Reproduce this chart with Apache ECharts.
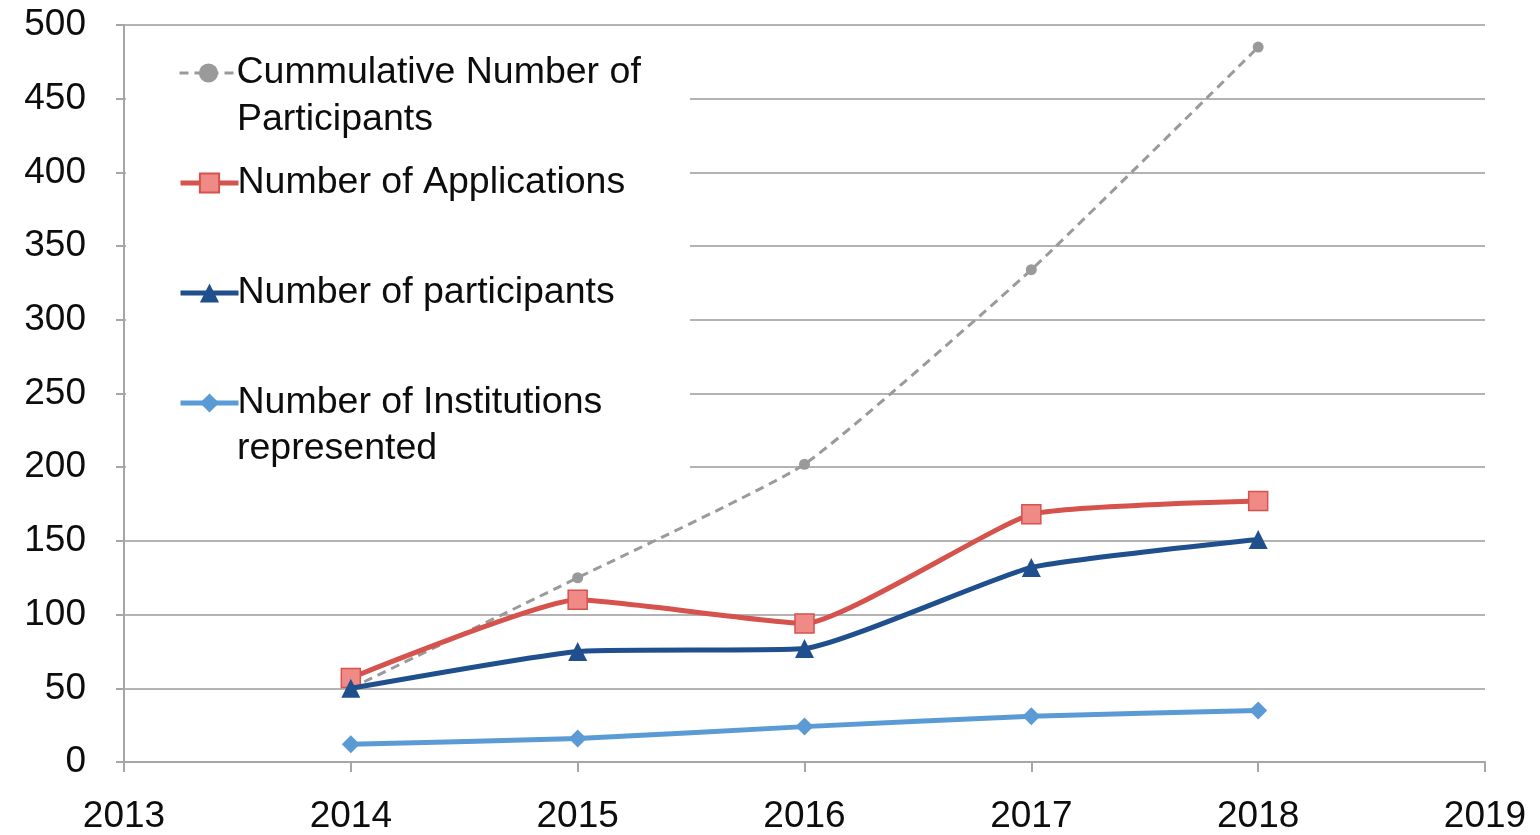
<!DOCTYPE html>
<html>
<head>
<meta charset="utf-8">
<script src="https://cdn.jsdelivr.net/npm/echarts@6/dist/echarts.min.js"></script>
<style>
html,body{margin:0;padding:0;background:#fff;}
#chart{width:1540px;height:835px;}
</style>
</head>
<body>
<div id="chart"></div>
<script>
const years = [2014, 2015, 2016, 2017, 2018];
const cumulative = [50, 125, 202, 334, 485];
const applications = [57, 110, 94, 168, 177];
const participants = [50, 75, 77, 132, 151];
const institutions = [12, 16, 24, 31, 35];
const seriesNames = ['Cummulative Number of', 'Number of Applications', 'Number of participants', 'Number of Institutions'];
const secondLines = ['Participants', 'represented'];

const FONT = '"Liberation Sans", Arial, sans-serif';
const pts = arr => years.map((y, i) => [y, arr[i]]);

const chart = echarts.init(document.getElementById('chart'), null, {renderer: 'canvas'});

function legendAt(name, top, lw) {
  return {
    show: true, data: [name], orient: 'vertical', left: 178, top: top,
    padding: 0, itemWidth: 58, itemHeight: 24, itemGap: 0,
    lineStyle: {width: lw},
    textStyle: {fontFamily: FONT, fontSize: 37.5, color: '#0d0d0d', lineHeight: 40, padding: [0,0,0,-6]},
    z: 6
  };
}

const option = {
  animation: false,
  backgroundColor: '#ffffff',
  grid: {left: 124, right: 55, top: 25, bottom: 73, containLabel: false},
  legend: [
    legendAt(seriesNames[0], 53, 3),
    legendAt(seriesNames[1], 163, 5),
    legendAt(seriesNames[2], 273, 5),
    legendAt(seriesNames[3], 383, 5)
  ],
  graphic: [
    {type: 'rect', left: 126, top: 30, shape: {width: 564, height: 450}, style: {fill: '#ffffff'}, z: 1, silent: true},
    {type: 'text', left: 237, top: 101, style: {text: secondLines[0], font: '37.5px ' + FONT, fill: '#0d0d0d'}, z: 6},
    {type: 'text', left: 237, top: 430, style: {text: secondLines[1], font: '37.5px ' + FONT, fill: '#0d0d0d'}, z: 6}
  ],
  xAxis: {
    type: 'value', min: 2013, max: 2019, interval: 1,
    axisLine: {show: true, lineStyle: {color: '#a6a6a6', width: 2}},
    axisTick: {show: true, length: 10, lineStyle: {color: '#a6a6a6', width: 2}},
    splitLine: {show: false},
    axisLabel: {fontFamily: FONT, fontSize: 37, color: '#0d0d0d', margin: 36, formatter: v => String(v)}
  },
  yAxis: {
    type: 'value', min: 0, max: 500, interval: 50,
    axisLine: {show: true, lineStyle: {color: '#a6a6a6', width: 2}},
    axisTick: {show: true, length: 8, lineStyle: {color: '#a6a6a6', width: 2}},
    splitLine: {show: true, lineStyle: {color: '#b3b3b3', width: 2}},
    axisLabel: {fontFamily: FONT, fontSize: 37, color: '#0d0d0d', margin: 38}
  },
  series: [
    {
      name: seriesNames[0], type: 'line', data: pts(cumulative), smooth: 0.15,
      symbol: 'circle', symbolSize: 11,
      lineStyle: {color: '#9a9a9a', width: 3, type: [9, 6]},
      itemStyle: {color: '#9a9a9a'}, z: 2
    },
    {
      name: seriesNames[1], type: 'line', data: pts(applications), smooth: 0.15,
      symbol: 'rect', symbolSize: 19,
      lineStyle: {color: '#d5524d', width: 5},
      itemStyle: {color: '#f08a86', borderColor: '#d5524d', borderWidth: 1.5}, z: 3
    },
    {
      name: seriesNames[2], type: 'line', data: pts(participants), smooth: 0.15,
      symbol: 'triangle', symbolSize: 19,
      lineStyle: {color: '#1f4f8c', width: 5},
      itemStyle: {color: '#1f4f8c'}, z: 4
    },
    {
      name: seriesNames[3], type: 'line', data: pts(institutions), smooth: 0.15,
      symbol: 'diamond', symbolSize: 18,
      lineStyle: {color: '#5b9bd5', width: 5},
      itemStyle: {color: '#5b9bd5'}, z: 4
    }
  ]
};
chart.setOption(option);
</script>
</body>
</html>
